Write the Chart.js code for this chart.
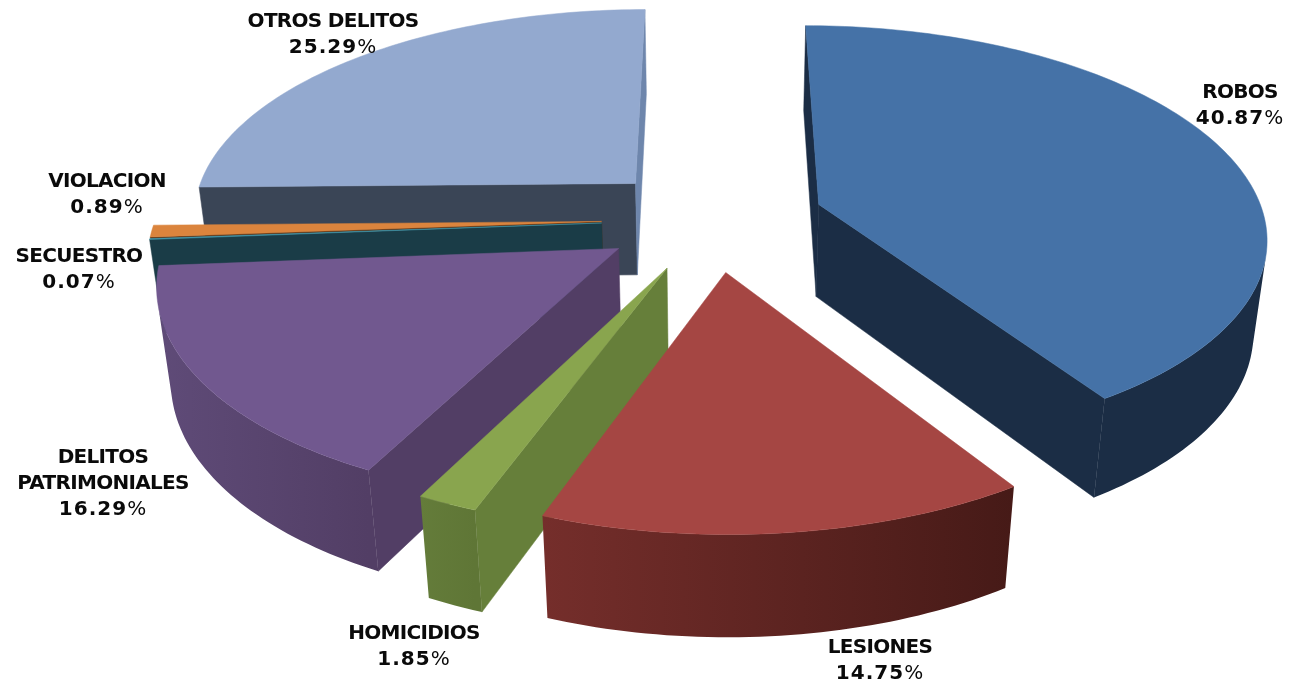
<!DOCTYPE html>
<html>
<head>
<meta charset="utf-8">
<title>Delitos</title>
<script src="https://cdn.jsdelivr.net/npm/chart.js@4"></script>
<style>
html, body { margin: 0; padding: 0; background: #fff; overflow: hidden; }
canvas { display: block; }
</style>
</head>
<body>
<canvas id="chart-delitos" width="1289" height="685"></canvas>
<script>
const categories = ["ROBOS", "LESIONES", "HOMICIDIOS", "DELITOS\nPATRIMONIALES", "SECUESTRO", "VIOLACION", "OTROS DELITOS"];
const values = [40.87, 14.75, 1.85, 16.29, 0.07, 0.89, 25.29];

// colours per slice
const topColors = ["#4572A7", "#A54643", "#89A54E", "#71588F", "#4198AF", "#DB843D", "#93A9CF"];
const startWall = ["#1B2D45", "#5E2523", "#667F3A", "#523E65", "#1A3C47", "#5C3416", "#3A4556"];
const endWall = ["#1B2D45", "#5E2523", "#647C3A", "#523E65", "#1A3C47", "#5C3416", "#6E86AC"];
const rimLeft = ["#1B2D45", "#752E2B", "#647C3A", "#5F4B78", "#1A3C47", "#5C3416", "#3A4556"];
const rimRight = ["#1B2D45", "#461A17", "#5F7636", "#523E65", "#1A3C47", "#5C3416", "#3A4556"];

// where each label sits: centre x, first baseline
const labelSpots = [[1240, 98], [880, 653], [414, 639], [103, 463], [79, 262], [107, 187], [333, 27]];

// fake perspective, fitted by eye against the picture
const view = { cx: 713, cy: 219, scaleX: 446, scaleY: 208, depth: 95, tilt: 0.142, sink: 0.025 };

const project = (X, Y, z) => {
    const w = 1 - view.tilt * Y + view.sink * z;
    return [view.cx + view.scaleX * X / w, view.cy + (view.scaleY * Y + view.depth * z) / w];
};

const pathOf = (ctx, pts) => {
    ctx.moveTo(pts[0][0], pts[0][1]);
    for (let i = 1; i < pts.length; i++) ctx.lineTo(pts[i][0], pts[i][1]);
    ctx.closePath();
};

const areaOf = (pts) => {
    let a = 0;
    pts.forEach((p, i) => { const q = pts[(i + 1) % pts.length]; a += p[0] * q[1] - q[0] * p[1]; });
    return a;
};

const fillFace = (ctx, pts, color) => {
    ctx.beginPath(); pathOf(ctx, pts);
    ctx.fillStyle = color; ctx.strokeStyle = color; ctx.lineWidth = 0.5;
    ctx.fill(); ctx.stroke();
};

function drawSlice(ctx, el, i, pivot) {
    const R = el.outerRadius, off = el.options.offset / R;
    const mid = (el.startAngle + el.endAngle) / 2;
    const ax = (el.x - pivot.x) / R + Math.cos(mid) * off, ay = (el.y - pivot.y) / R + Math.sin(mid) * off;
    const steps = Math.max(2, Math.ceil((el.endAngle - el.startAngle) / 0.02));
    const rimAt = (k, z) => {
        const a = el.startAngle + (el.endAngle - el.startAngle) * k / steps;
        return project(ax + Math.cos(a), ay + Math.sin(a), z);
    };
    const apexTop = project(ax, ay, 0), apexLow = project(ax, ay, 1);

    // radial walls, culled when they face away
    const wallA = [apexTop, rimAt(0, 0), rimAt(0, 1), apexLow];
    if (areaOf(wallA) < 0) fillFace(ctx, wallA, startWall[i]);
    const wallB = [rimAt(steps, 0), apexTop, apexLow, rimAt(steps, 1)];
    if (areaOf(wallB) < 0) fillFace(ctx, wallB, endWall[i]);

    // outer rim
    const xs = [];
    for (let k = 0; k <= steps; k++) xs.push(rimAt(k, 0)[0]);
    const grad = ctx.createLinearGradient(Math.min(...xs), 0, Math.max(...xs), 0);
    grad.addColorStop(0, rimLeft[i]); grad.addColorStop(1, rimRight[i]);
    ctx.beginPath();
    let any = false;
    for (let k = 0; k < steps; k++) {
        const quad = [rimAt(k, 0), rimAt(k + 1, 0), rimAt(k + 1, 1), rimAt(k, 1)];
        if (areaOf(quad) < 0) { pathOf(ctx, quad); any = true; }
    }
    if (any) { ctx.fillStyle = grad; ctx.fill(); }

    // top face
    const top = [apexTop];
    for (let k = 0; k <= steps; k++) top.push(rimAt(k, 0));
    fillFace(ctx, top, topColors[i]);
}

function drawLabels(ctx) {
    const bold = "bold 20px 'DejaVu Sans'", thin = "20px 'DejaVu Sans'";
    ctx.fillStyle = "#0a0a0a"; ctx.textBaseline = "alphabetic";
    categories.forEach((name, i) => {
        const lines = name.split("\n"), cx = labelSpots[i][0];
        let y = labelSpots[i][1];
        ctx.font = bold; ctx.textAlign = "center"; ctx.letterSpacing = "-0.7px";
        lines.forEach(l => { ctx.fillText(l, cx, y); y += 26; });
        // the digits are heavy, the % sign is not
        const num = values[i].toFixed(2);
        ctx.letterSpacing = "1px";
        const w1 = ctx.measureText(num).width;
        ctx.font = thin;
        const w2 = ctx.measureText("%").width;
        ctx.textAlign = "left";
        ctx.font = bold; ctx.fillText(num, cx - (w1 + w2) / 2, y);
        ctx.font = thin; ctx.fillText("%", cx - (w1 + w2) / 2 + w1, y);
    });
    ctx.letterSpacing = "0px";
}

const pie3d = {
    id: "pie3d",
    beforeDatasetsDraw(chart) {
        const ctx = chart.ctx, arcs = chart.getDatasetMeta(0).data;
        const pivot = { x: arcs[0].x, y: arcs[0].y };
        // back slices first
        const order = arcs.map((el, i) => i).sort((a, b) =>
            Math.sin((arcs[a].startAngle + arcs[a].endAngle) / 2) - Math.sin((arcs[b].startAngle + arcs[b].endAngle) / 2));
        ctx.save();
        order.forEach(i => drawSlice(ctx, arcs[i], i, pivot));
        drawLabels(ctx);
        ctx.restore();
        return false;
    }
};

new Chart(document.getElementById("chart-delitos"), {
    type: "pie",
    data: {
        labels: categories,
        datasets: [{ data: values, backgroundColor: topColors, borderWidth: 0, offset: 76 }]
    },
    options: {
        responsive: false,
        animation: false,
        devicePixelRatio: 1,
        layout: { padding: 0 },
        plugins: { legend: { display: false }, tooltip: { enabled: false } }
    },
    plugins: [pie3d]
});
</script>
</body>
</html>
